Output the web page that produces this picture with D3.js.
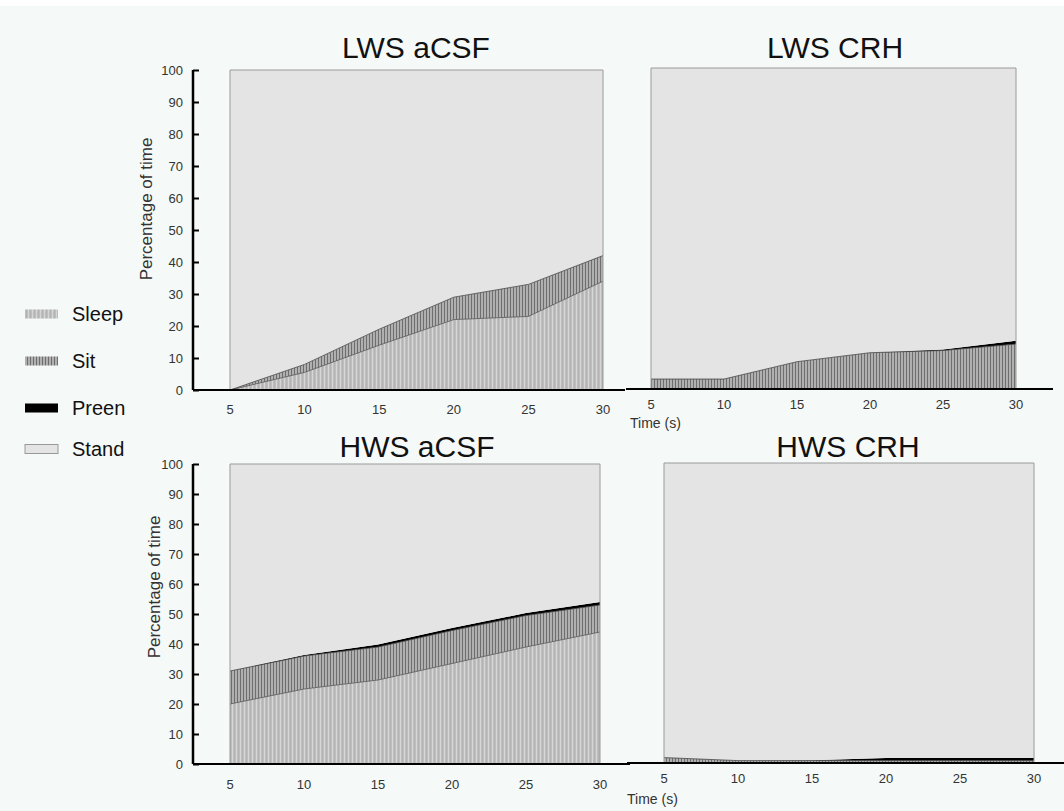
<!DOCTYPE html>
<html><head><meta charset="utf-8">
<script src="https://cdn.jsdelivr.net/npm/d3@7/dist/d3.min.js"></script>
<style>
html,body{margin:0;padding:0;background:#f5f9f7;}
svg{display:block;font-family:"Liberation Sans",Arial,Helvetica,sans-serif;}
</style></head>
<body>
<svg id="c" width="1064" height="811"></svg>
<script>
// ---- data ----
const times = [5, 10, 15, 20, 25, 30];
const yTicks = [0, 10, 20, 30, 40, 50, 60, 70, 80, 90, 100];
const behaviours = ["Sleep", "Sit", "Preen", "Stand"];

const lwsAcsfSleep = [0, 5.5, 14, 22, 23, 34];
const lwsAcsfSit   = [0, 2.5, 5, 7, 10, 8];
const lwsAcsfPreen = [0, 0, 0, 0, 0, 0];

const lwsCrhSleep = [0, 0, 0, 0, 0, 0];
const lwsCrhSit   = [3.1, 3.1, 8.5, 11.3, 12, 14];
const lwsCrhPreen = [0, 0, 0, 0, 0.3, 1];

const hwsAcsfSleep = [20, 25, 28, 33.5, 39, 44];
const hwsAcsfSit   = [11, 11, 11, 11, 10.5, 9];
const hwsAcsfPreen = [0, 0.3, 0.8, 0.8, 0.8, 1];

const hwsCrhSleep = [0, 0, 0, 0, 0, 0];
const hwsCrhSit   = [1.8, 0.8, 0.8, 0.8, 0.8, 0.8];
const hwsCrhPreen = [0, 0, 0.1, 0.9, 0.9, 0.9];

// ---- layout ----
const panels = [
  {title:"LWS aCSF", sleep:lwsAcsfSleep, sit:lwsAcsfSit, preen:lwsAcsfPreen,
   x0:230, x1:603, yb:390, yt:70, yAxis:true, base:[193,625], tickY:414, titleX:416, titleY:58,
   ylabX:152, ylabY:209, timeLabel:false},
  {title:"LWS CRH", sleep:lwsCrhSleep, sit:lwsCrhSit, preen:lwsCrhPreen,
   x0:651, x1:1016, yb:389, yt:68, yAxis:false, base:[626,1053], tickY:409, titleX:835, titleY:58,
   timeLabel:true, timeX:630, timeY:428},
  {title:"HWS aCSF", sleep:hwsAcsfSleep, sit:hwsAcsfSit, preen:hwsAcsfPreen,
   x0:230, x1:600, yb:764, yt:464, yAxis:true, base:[193,630], tickY:789, titleX:417, titleY:457,
   ylabX:160, ylabY:587, timeLabel:false},
  {title:"HWS CRH", sleep:hwsCrhSleep, sit:hwsCrhSit, preen:hwsCrhPreen,
   x0:664, x1:1034, yb:763, yt:463, yAxis:false, base:[627,1064], tickY:783, titleX:848, titleY:457,
   timeLabel:true, timeX:627, timeY:804}
];

const svg = d3.select("#c");
svg.append("rect").attr("x",0).attr("y",0).attr("width",1064).attr("height",6).attr("fill","#ffffff");

// ---- patterns ----
const defs = svg.append("defs");
const pSleep = defs.append("pattern").attr("id","pSleep").attr("patternUnits","userSpaceOnUse")
  .attr("width",4).attr("height",4);
pSleep.append("rect").attr("width",4).attr("height",4).attr("fill","#bebebe");
pSleep.append("rect").attr("x",0).attr("width",1).attr("height",4).attr("fill","#d6d6d6");
pSleep.append("rect").attr("x",2).attr("width",1).attr("height",4).attr("fill","#b4b4b4");

const pSit = defs.append("pattern").attr("id","pSit").attr("patternUnits","userSpaceOnUse")
  .attr("width",3).attr("height",4);
pSit.append("rect").attr("width",3).attr("height",4).attr("fill","#b0b0b0");
pSit.append("rect").attr("x",0).attr("width",1).attr("height",4).attr("fill","#6e6e6e");

const fills = {Sleep:"url(#pSleep)", Sit:"url(#pSit)", Preen:"#000000", Stand:"#e4e4e4"};

panels.forEach(p => {
  const g = svg.append("g");
  const x = d3.scaleLinear().domain([5,30]).range([p.x0,p.x1]);
  const y = d3.scaleLinear().domain([0,100]).range([p.yb,p.yt]);

  const rows = times.map((t,i) => ({
    t, Sleep:p.sleep[i], Sit:p.sit[i], Preen:p.preen[i],
    Stand: 100 - p.sleep[i] - p.sit[i] - p.preen[i]
  }));
  const series = d3.stack().keys(behaviours)(rows);
  const area = d3.area().x(d => x(d.data.t)).y0(d => y(d[0])).y1(d => y(d[1]));
  const topLine = d3.line().x(d => x(d.data.t)).y(d => y(d[1]));

  g.selectAll("path.layer").data(series).join("path")
    .attr("class","layer")
    .attr("d", area)
    .attr("fill", s => fills[s.key])
    .attr("stroke","none");

  // layer edge lines
  g.selectAll("path.edge").data(series.filter(s => s.key==="Sleep" || s.key==="Sit")).join("path")
    .attr("class","edge")
    .attr("d", topLine)
    .attr("fill","none")
    .attr("stroke", s => s.key==="Sit" ? "#444" : "#555")
    .attr("stroke-width", 0.8)
    .attr("opacity", s => d3.max(s, d => d[1]-d[0]) > 0 ? 1 : 0);

  // plot border (stand box)
  g.append("path")
    .attr("d", `M${x(5)},${y(0)}V${y(100)}H${x(30)}V${y(0)}`)
    .attr("fill","none").attr("stroke","#9a9a9a").attr("stroke-width",1);

  // baseline
  g.append("line").attr("x1",p.base[0]).attr("x2",p.base[1])
    .attr("y1",p.yb).attr("y2",p.yb).attr("stroke","#000").attr("stroke-width",2);

  // x tick labels
  g.selectAll("text.xt").data(times).join("text")
    .attr("class","xt").attr("x", d => x(d)).attr("y", p.tickY)
    .attr("text-anchor","middle").attr("font-size",13).attr("fill","#333")
    .text(d => d);

  // y axis
  if (p.yAxis) {
    const ya = g.append("g").attr("transform",`translate(193,0)`)
      .call(d3.axisRight(y).tickValues(yTicks).tickSize(6).tickFormat(""));
    ya.select(".domain").attr("stroke","#000").attr("stroke-width",2.5)
      .attr("d", `M0,${y(0)}V${y(100)}`);
    ya.selectAll(".tick line").attr("stroke","#000").attr("stroke-width",2);
    g.selectAll("text.yt").data(yTicks).join("text")
      .attr("class","yt").attr("x",183).attr("y", d => y(d)+4.5)
      .attr("text-anchor","end").attr("font-size",13).attr("fill","#333")
      .text(d => d);
    g.append("text")
      .attr("transform",`translate(${p.ylabX},${p.ylabY}) rotate(-90)`)
      .attr("text-anchor","middle").attr("font-size",17).attr("fill","#333")
      .text("Percentage of time");
  }

  if (p.timeLabel) {
    g.append("text").attr("x",p.timeX).attr("y",p.timeY)
      .attr("font-size",14).attr("fill","#333").text("Time (s)");
  }

  // title
  g.append("text").attr("x",p.titleX).attr("y",p.titleY)
    .attr("text-anchor","middle").attr("font-size",30).attr("fill","#111")
    .text(p.title);
});

// ---- legend ----
const legY = [314, 361, 408, 449];
const leg = svg.append("g");
behaviours.forEach((b,i) => {
  leg.append("rect").attr("x",25).attr("y",legY[i]-4.5).attr("width",33).attr("height",9)
    .attr("fill", fills[b]).attr("stroke", b==="Stand" ? "#999" : "none").attr("stroke-width",1);
  leg.append("text").attr("x",72).attr("y",legY[i]+7).attr("font-size",20).attr("fill","#111").text(b);
});
</script>
</body></html>
